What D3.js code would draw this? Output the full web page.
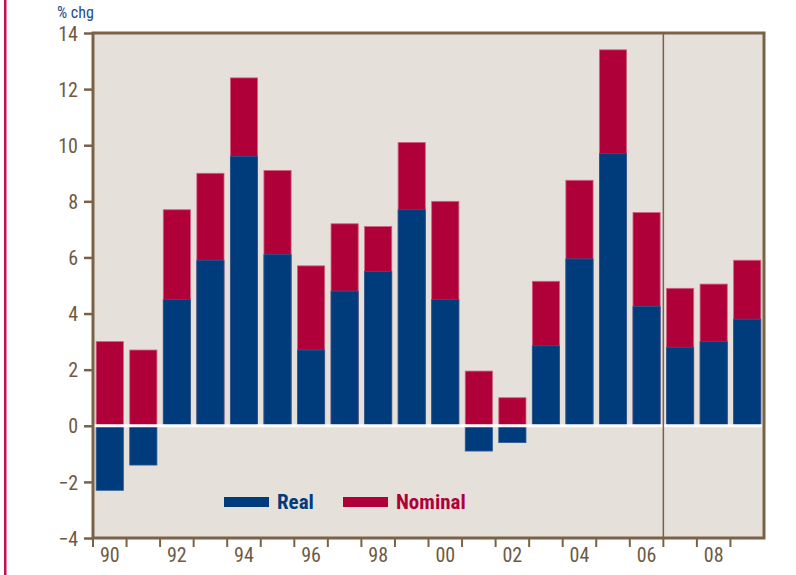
<!DOCTYPE html>
<html><head><meta charset="utf-8">
<script src="https://cdn.jsdelivr.net/npm/d3@7"></script>
<style>
html,body{margin:0;padding:0;background:#fff;}
svg{display:block;}
text{font-family:"Liberation Sans Narrow","Arial Narrow","Roboto Condensed","Liberation Sans",sans-serif;}
</style></head>
<body>
<svg id="chart" width="796" height="575"></svg>
<script>
const years = [1990,1991,1992,1993,1994,1995,1996,1997,1998,1999,2000,2001,2002,2003,2004,2005,2006,2007,2008,2009];
const nominal = [3.0,2.7,7.7,9.0,12.4,9.1,5.7,7.2,7.1,10.1,8.0,1.95,1.0,5.15,8.75,13.4,7.6,4.9,5.05,5.9];
const real = [-2.3,-1.4,4.5,5.9,9.6,6.1,2.7,4.8,5.5,7.7,4.5,-0.9,-0.6,2.85,5.95,9.7,4.25,2.8,3.0,3.8];
const yTicks = [-4,-2,0,2,4,6,8,10,12,14];
const xLabelYears = [1990,1992,1994,1996,1998,2000,2002,2004,2006,2008];
const seriesNames = ["Real","Nominal"];

const C = {red:"#b0003a", blue:"#003c7c", bg:"#e6e0da", frame:"#7a6246", text:"#6e5a44"};
const svg = d3.select("#chart");
const L=93, R=764, T=33, B=538;

const x = d3.scaleBand().domain(years).range([L,R]).paddingInner(0.19).paddingOuter(0.095);
const xb = d3.scaleBand().domain(years).range([L,R]).padding(0);
const y = d3.scaleLinear().domain([-4,14]).range([B,T]);

// left red rule
svg.append("rect").attr("x",4).attr("y",0).attr("width",2.5).attr("height",575).attr("fill","#c8104a");

// plot bg
svg.append("rect").attr("x",L).attr("y",T).attr("width",R-L).attr("height",B-T).attr("fill",C.bg);

// nominal bars
svg.append("g").selectAll("rect").data(years).join("rect")
  .attr("x",d=>x(d)).attr("width",x.bandwidth())
  .attr("y",(d,i)=>y(Math.max(0,nominal[i])))
  .attr("height",(d,i)=>Math.abs(y(nominal[i])-y(0)))
  .attr("fill",C.red).attr("stroke","#d06080").attr("stroke-width",0.8);
// real bars
svg.append("g").selectAll("rect").data(years).join("rect")
  .attr("x",d=>x(d)).attr("width",x.bandwidth())
  .attr("y",(d,i)=>y(Math.max(0,real[i])))
  .attr("height",(d,i)=>Math.abs(y(real[i])-y(0)))
  .attr("fill",C.blue).attr("stroke","#2a5a92").attr("stroke-width",0.8);

// zero line
svg.append("line").attr("x1",L).attr("x2",R-2).attr("y1",y(0)).attr("y2",y(0))
  .attr("stroke","#fff").attr("stroke-width",3);

// forecast divider
const divX = xb(2007);
svg.append("line").attr("x1",divX).attr("x2",divX).attr("y1",T).attr("y2",B)
  .attr("stroke",C.frame).attr("stroke-width",1.5);

// frame
svg.append("rect").attr("x",L).attr("y",T).attr("width",R-L).attr("height",B-T)
  .attr("fill","none").attr("stroke",C.frame).attr("stroke-width",3);

// y axis
const yAxis = d3.axisLeft(y).tickValues(yTicks).tickSize(9).tickPadding(6).tickFormat(d3.format("d"));
const gy = svg.append("g").attr("transform",`translate(${L},0)`).call(yAxis);
gy.select(".domain").remove();
gy.selectAll("line").attr("stroke",C.frame).attr("stroke-width",2.5);
gy.selectAll("text").attr("fill",C.text).attr("font-size",20).attr("dy","0.36em");

// x axis ticks at band boundaries
svg.append("g").selectAll("line").data(years).join("line")
  .attr("x1",d=>xb(d)).attr("x2",d=>xb(d)).attr("y1",B).attr("y2",B+9)
  .attr("stroke",C.frame).attr("stroke-width",2);
const xAxis = d3.axisBottom(xb).tickValues(xLabelYears).tickSize(0).tickPadding(10)
  .tickFormat(d=>String(d).slice(2));
const gx = svg.append("g").attr("transform",`translate(0,${B})`).call(xAxis);
gx.select(".domain").remove();
gx.selectAll("text").attr("fill",C.text).attr("font-size",20);

// unit label
svg.append("text").attr("x",57).attr("y",18).attr("fill","#1e4e8c").attr("font-size",16).text("% chg");

// legend
const leg = svg.append("g");
const legItems = [{n:seriesNames[0],c:C.blue,x:224},{n:seriesNames[1],c:C.red,x:343}];
legItems.forEach(it=>{
  leg.append("rect").attr("x",it.x).attr("y",497).attr("width",45).attr("height",10).attr("fill",it.c);
  leg.append("text").attr("x",it.x+53).attr("y",509).attr("fill",it.c).attr("font-size",21)
    .attr("font-weight","bold").text(it.n);
});
</script>
</body></html>
